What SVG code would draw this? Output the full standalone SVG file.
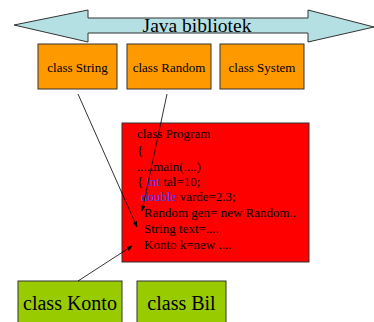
<svg xmlns="http://www.w3.org/2000/svg" width="374" height="322" viewBox="0 0 374 322">
<style>
text{font-family:"Liberation Serif","Times New Roman",serif;fill:#000}
.lib{fill:#ff9900;stroke:#333;stroke-width:1}
.own{fill:#99cc00;stroke:#333;stroke-width:1}
.s12{font-size:13px}
.kw{fill:#4040ff}
.conn{stroke:#000;stroke-width:0.8;fill:none;marker-end:url(#ah)}
</style>
<defs>
<marker id="ah" viewBox="0 0 10 10" refX="9" refY="5" markerWidth="6" markerHeight="6" orient="auto" markerUnits="userSpaceOnUse">
<path d="M0,1 L10,5 L0,9 z" fill="#000"/>
</marker>
</defs>
<rect width="374" height="322" fill="#fff"/>
<g id="bibliotek">
<polygon points="14,25 88,10 88,18 308,18 308,10 374,27 308,42 308,33 88,33 88,42" fill="#b4e0e4" stroke="#333" stroke-width="1"/>
<text x="197" y="32" font-size="19.5" text-anchor="middle">Java bibliotek</text>
</g>
<g id="string">
<rect class="lib" x="38" y="44" width="79" height="45"/>
<text class="s12" x="77.5" y="72" text-anchor="middle">class String</text>
</g>
<g id="random">
<rect class="lib" x="127" y="44" width="84" height="45"/>
<text class="s12" x="169" y="72" text-anchor="middle">class Random</text>
</g>
<g id="system">
<rect class="lib" x="220" y="44" width="84" height="45"/>
<text class="s12" x="262" y="72" text-anchor="middle">class System</text>
</g>
<g id="program">
<rect x="122" y="123" width="187" height="139" fill="#ff0000" stroke="#333" stroke-width="1"/>
<text class="s12" x="137" y="138">class Program</text>
<text class="s12" x="137" y="155">{</text>
<text class="s12" x="137" y="171">.....main(....)</text>
<text class="s12" x="137" y="186">{  <tspan class="kw">int</tspan> tal=10;</text>
<text class="s12" x="141" y="201"><tspan class="kw">double</tspan> varde=2.3;</text>
<text class="s12" x="144" y="217">Random gen= new Random..</text>
<text class="s12" x="144" y="233">String text=....</text>
<text class="s12" x="144" y="249">Konto k=new ....</text>
</g>
<g id="konto">
<rect class="own" x="18" y="281" width="104" height="50"/>
<text x="70" y="310" font-size="20" text-anchor="middle">class Konto</text>
</g>
<g id="bil">
<rect class="own" x="137" y="281" width="89" height="50"/>
<text x="181.5" y="310" font-size="20" text-anchor="middle">class Bil</text>
</g>
<g id="connectors">
<line class="conn" x1="78" y1="94" x2="137" y2="227"/>
<line class="conn" x1="167" y1="94" x2="142" y2="211"/>
<line class="conn" x1="78" y1="281" x2="132" y2="246"/>
</g>
</svg>
